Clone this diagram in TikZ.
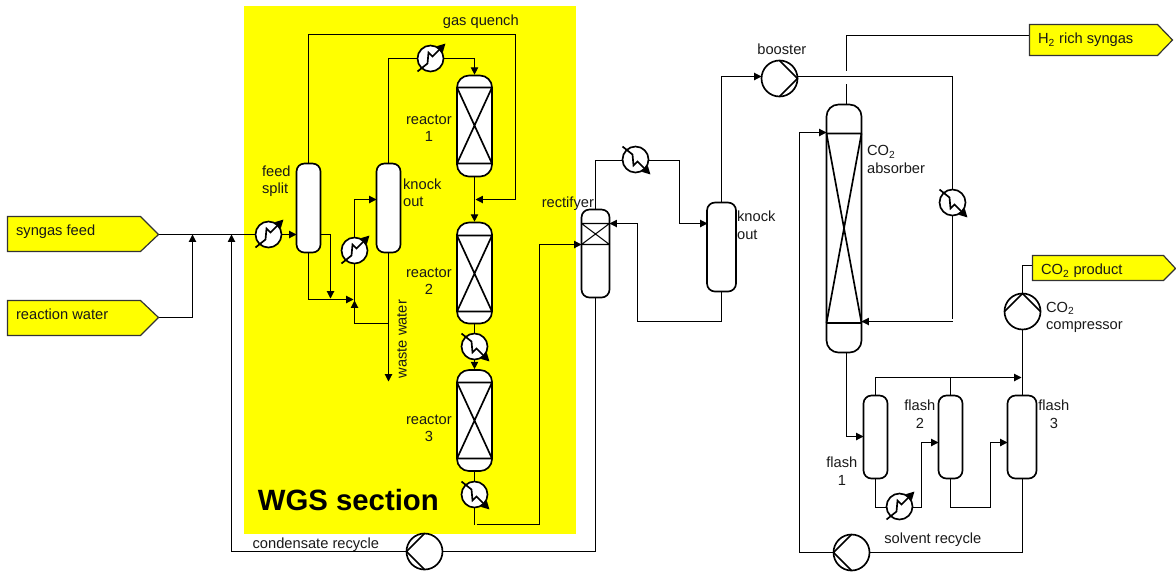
\documentclass[tikz,border=0pt]{standalone}
\usepackage{fontspec}
\setmainfont{Liberation Sans}
\usetikzlibrary{arrows.meta,backgrounds}
\definecolor{pureyellow}{RGB}{255,255,0}
\tikzset{
  pipe/.style={draw=black,line width=0.75pt,line join=miter},
  flow/.style={pipe,-{Triangle[length=5.5pt,width=5.5pt]}},
  vessel/.style 2 args={draw=black,fill=white,line width=1.25pt,rounded corners=6pt,inner sep=0pt,minimum width=#1*0.75pt,minimum height=#2*0.75pt},
  reactor/.style={vessel={35}{101},rounded corners=9pt},
  hxbody/.style={circle,draw=black,fill=white,line width=1.25pt,inner sep=0pt,minimum size=19.5pt},
  pumpbody/.style={circle,draw=black,fill=white,line width=1.25pt,inner sep=0pt,minimum size=27pt},
  glyph/.style={line width=1.25pt,draw=black},
  thinbed/.style={line width=0.8pt,draw=black},
  hxarrow/.style={glyph,-{Triangle[length=6pt,width=6pt]}},
  tag/.style={draw=black!80,fill=pureyellow,line width=0.9pt,line join=miter},
  lbl/.style={inner sep=0pt,xshift=-0.5pt,yshift=0.3pt,font=\fontsize{11}{13}\selectfont,text=black!90},
  lblc/.style={lbl,align=center},
  lbll/.style={lbl,align=left,anchor=west},
}
% name, x, y, vertical sign of the exchanger's arrow (-1 up, +1 down)
\newcommand{\hxunit}[4]{%
  \node[hxbody] (#1) at (#2,#3) {};
  \begin{scope}[shift={(#2,#3)},yscale=#4]
    \draw[hxarrow] (-13,-13) -- (-3,-5) -- (-2,6) -- (2,2) -- (15,15);
  \end{scope}}
% name, x, y, rotation (0 = points right)
\newcommand{\pumpunit}[4]{%
  \node[pumpbody] (#1) at (#2,#3) {};
  \begin{scope}[shift={(#2,#3)},rotate=#4]
    \draw[glyph,line join=round] (0,-18) -- (18,0) -- (0,18);
  \end{scope}}
% x left, x right, y top, y bottom
\newcommand{\bedlines}[4]{%
  \draw[glyph] (#1,#3) -- (#2,#3) (#1,#4) -- (#2,#4)
    (#1,#3) -- (#2,#4) (#2,#3) -- (#1,#4);}
\begin{document}
\begin{tikzpicture}[x=0.75pt,y=-0.75pt]
\useasboundingbox (-0.5,-0.5) rectangle (1175.5,571.5);

% vessels
\node[vessel={24}{89}] (split) at (308,207.5) {};
\node[vessel={24}{89}] (ko1) at (388,207.5) {};
\node[reactor] (r1) at (474,125.5) {};
\node[reactor] (r2) at (474,272.5) {};
\node[reactor] (r3) at (474,420) {};
\node[vessel={28}{88}] (rect) at (595,253) {};
\node[vessel={29}{89}] (ko2) at (721,246.5) {};
\node[vessel={35}{248},rounded corners=9pt] (abs) at (843.5,228) {};
\node[vessel={24}{83}] (f1) at (875,436.5) {};
\node[vessel={24}{83}] (f2) at (950,436.5) {};
\node[vessel={29}{83}] (f3) at (1021.5,436.5) {};
\bedlines{456.5}{491.5}{87}{163}
\bedlines{456.5}{491.5}{235}{311}
\bedlines{456.5}{491.5}{382}{458}
\draw[thinbed] (581,223) -- (609,223) (581,244) -- (609,244) (581,223) -- (609,244) (609,223) -- (581,244);
\bedlines{826}{861}{133}{322.5}

% exchangers and pumps
\hxunit{hxa}{268}{234}{-1}
\hxunit{hxb}{354}{250}{-1}
\hxunit{hxc}{430}{58}{-1}
\hxunit{hxd}{474}{346}{1}
\hxunit{hxe}{474}{494}{1}
\hxunit{hxf}{635}{159}{1}
\hxunit{hxg}{952}{202}{1}
\hxunit{hxh}{899}{506}{-1}
\pumpunit{cond}{424}{551}{180}
\pumpunit{boost}{779}{78}{0}
\pumpunit{comp}{1022}{311}{90}
\pumpunit{solv}{851}{552}{180}

% tags
\draw[tag] (7,216) -- (140,216) -- (158,234) -- (140,251) -- (7,251) -- cycle;
\draw[tag] (7,300) -- (140,300) -- (158,317) -- (140,335) -- (7,335) -- cycle;
\draw[tag] (1029,24) -- (1157,24) -- (1172,39.5) -- (1157,55) -- (1029,55) -- cycle;
\draw[tag] (1032,255) -- (1163,255) -- (1175,268) -- (1163,280) -- (1032,280) -- cycle;
\coordinate (syn) at (158,234);
\coordinate (water) at (158,317);
\coordinate (hrich) at (1029,35);
\coordinate (co2p) at (1032,265);

% ports and junctions
\coordinate (mixa) at (192,234);
\coordinate (mixb) at (231,234);
\coordinate (splitin) at (296,234);
\coordinate (splitout) at (320,234);
\coordinate (drop) at (330,298);
\coordinate (mixc) at (353,299);
\coordinate (mixd) at (354,300);
\coordinate (ko1in) at (376,199);
\coordinate (wastej) at (388,323);
\coordinate (wasteend) at (388,381);
\coordinate (qa) at (515,34);
\coordinate (qb) at (515,199);
\coordinate (quenchin) at (475,199);
\coordinate (weld) at (539,524);
\coordinate (rectin) at (581,244);
\coordinate (rectback) at (609,223);
\coordinate (ko2in) at (707,223);
\coordinate (hxfa) at (635,160);
\coordinate (hxfb) at (679,160);
\coordinate (ret) at (637,321);
\coordinate (r3out) at (474,524);
\coordinate (r3outb) at (476,524);
\coordinate (boostin) at (761,76);
\coordinate (boostout) at (797,76);
\coordinate (gasturn) at (952,76);
\coordinate (gasend) at (952,318);
\coordinate (gasb) at (952,321);
\coordinate (absin) at (861,321);
\coordinate (solvturn) at (799,132);
\coordinate (solvin) at (826,132);
\coordinate (hgapa) at (846,83);
\coordinate (hgapb) at (846,70);
\coordinate (absbot) at (846,352);
\coordinate (abstop) at (846,104);
\coordinate (f1in) at (863,436);
\coordinate (f2in) at (938,442);
\coordinate (f3in) at (1007,442);
\coordinate (hxhp) at (899,507);
\coordinate (hxhq) at (921,507);
\coordinate (f2q) at (921,442);
\coordinate (f3q) at (990,507);
\coordinate (ventb) at (950,377);
\coordinate (vent) at (1021,377);
\coordinate (f3bot) at (1022,478);
\coordinate (f3top) at (1022,395);

\begin{scope}[on background layer]
  \fill[pureyellow] (243.5,5.5) rectangle (575,533);
  % feed
  \draw[pipe] (syn) -- (hxa);
  \draw[flow] (hxa) -- (splitin);
  \draw[flow] (water) -| (mixa);
  \draw[flow] (cond) -| (mixb);
  % feed split
  \draw[flow] (splitout) -| (drop);
  \draw[flow] (split.south) |- (mixc);
  \draw[pipe] (split.north) |- (qa) -- (qb);
  \draw[flow] (qb) -- (quenchin);
  % knock out 1
  \draw[pipe] (mixd) -- (hxb);
  \draw[flow] (hxb) |- (ko1in);
  \draw[flow] (wastej) -| (mixd);
  \draw[flow] (ko1.south) -- (wasteend);
  \draw[pipe] (ko1.north) |- (hxc);
  \draw[flow] (hxc) -| (r1.north);
  % reactors
  \draw[flow] (r1.south) -- (r2.north);
  \draw[pipe] (r2.south) -- (hxd);
  \draw[flow] (hxd) -- (r3.north);
  \draw[pipe] (r3.south) -- (hxe);
  \draw[pipe] (hxe) -- (r3out);
  \draw[flow] (r3outb) -- (weld) |- (rectin);
  % rectifyer
  \draw[pipe] (rect.north) |- (hxfa);
  \draw[flow] (hxfa) -- (hxfb) |- (ko2in);
  \draw[flow] (ko2.south) |- (ret) |- (rectback);
  \draw[pipe] (rect.south) |- (cond);
  % booster and absorber
  \draw[flow] (ko2.north) |- (boostin);
  \draw[pipe] (boostout) -- (gasturn);
  \draw[pipe] (gasturn) -- (gasend);
  \draw[flow] (gasb) -- (absin);
  \draw[pipe] (abstop) -- (hgapa);
  \draw[pipe] (hgapb) |- (hrich);
  % flashes
  \draw[flow] (absbot) |- (f1in);
  \draw[pipe] (f1.south) |- (hxhp);
  \draw[flow] (hxhp) -- (hxhq) -- (f2q) -- (f2in);
  \draw[flow] (f2.south) |- (f3q) |- (f3in);
  \draw[flow] (f1.north) |- (vent);
  \draw[pipe] (f2.north) -- (ventb);
  \draw[pipe] (f3top) -- (comp);
  \draw[pipe] (comp) |- (co2p);
  \draw[pipe] (f3bot) |- (solv);
  \draw[flow] (solv) -| (solvturn) -- (solvin);
\end{scope}

% labels
\node[lbll] (t1) at (16,232) {syngas feed};
\node[lbll] (t2) at (16,314) {reaction water};
\node[lbll] (t3) at (1038,40) {H\textsubscript{2} rich syngas};
\node[lbll] (t4) at (1041,271) {CO\textsubscript{2} product};
\node[lblc] (t5) at (481,22) {gas quench};
\node[lbll] (t6) at (262,181) {feed\\split};
\node[lbll] (t7) at (403,192.5) {knock\\out};
\node[lblc] (t8) at (429,128) {reactor\\1};
\node[lblc] (t9) at (429,281) {reactor\\2};
\node[lblc] (t10) at (429,428) {reactor\\3};
\node[lblc,rotate=90] (t11) at (402,339) {waste water};
\node[lblc] (t12) at (568,204) {rectifyer};
\node[lblc] (t13) at (782,49) {booster};
\node[lbll] (t14) at (867,159.5) {CO\textsubscript{2}\\absorber};
\node[lbll] (t15) at (737,225) {knock\\out};
\node[lblc] (t16) at (842,471) {flash\\1};
\node[lblc] (t17) at (920,414) {flash\\2};
\node[lblc] (t18) at (1054,414) {flash\\3};
\node[lbll] (t19) at (1046,317.5) {CO\textsubscript{2}\\compressor};
\node[lblc] (t20) at (933,540) {solvent recycle};
\node[lblc] (t21) at (316,545) {condensate recycle};
\node[inner sep=0pt,xshift=-0.5pt,font=\fontsize{22}{24}\selectfont\bfseries] (t22) at (348.5,500) {WGS section};
\end{tikzpicture}
\end{document}
